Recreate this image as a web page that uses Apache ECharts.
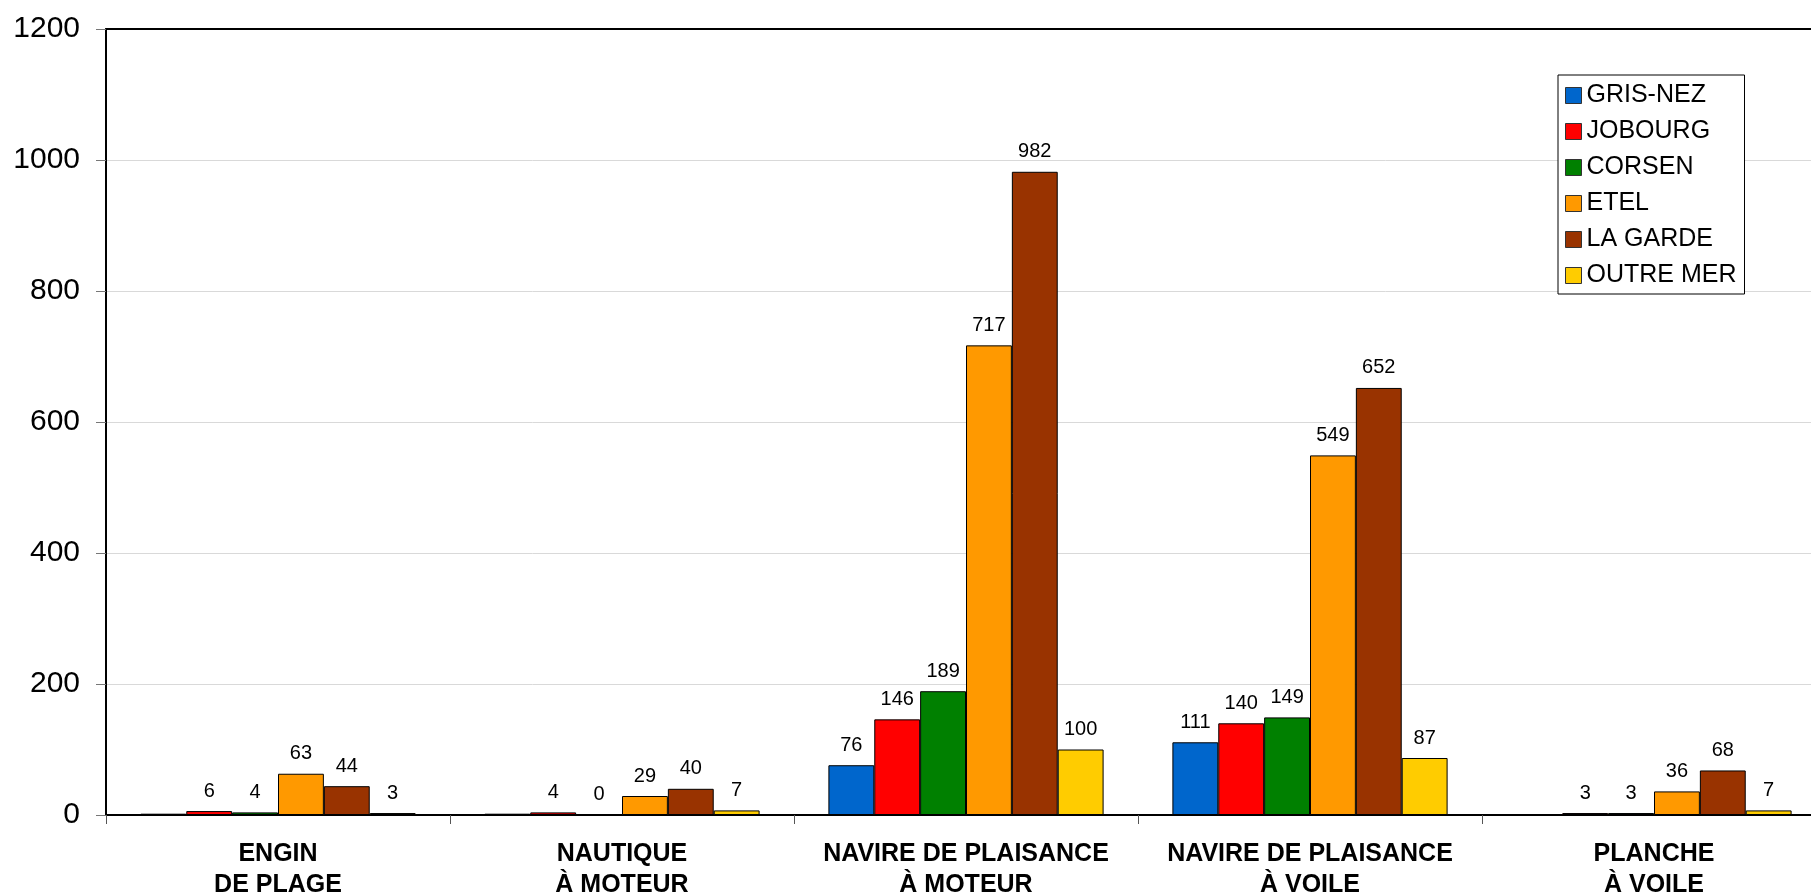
<!DOCTYPE html>
<html>
<head>
<meta charset="utf-8">
<script src="https://cdn.jsdelivr.net/npm/echarts@6/dist/echarts.min.js"></script>
<style>
html,body{margin:0;padding:0;background:#fff;}
#chart{width:1811px;height:895px;}
</style>
</head>
<body>
<div id="chart"></div>
<script>
var categories = ['ENGIN\nDE PLAGE', 'NAUTIQUE\nÀ MOTEUR', 'NAVIRE DE PLAISANCE\nÀ MOTEUR', 'NAVIRE DE PLAISANCE\nÀ VOILE', 'PLANCHE\nÀ VOILE'];
var seriesNames = ['GRIS-NEZ', 'JOBOURG', 'CORSEN', 'ETEL', 'LA GARDE', 'OUTRE MER'];
var seriesColors = ['#0066CC', '#FF0000', '#008000', '#FF9900', '#993300', '#FFCC00'];
var grisNez = [2, 2, 76, 111, null];
var jobourg = [6, 4, 146, 140, 3];
var corsen = [4, 0, 189, 149, 3];
var etel = [63, 29, 717, 549, 36];
var laGarde = [44, 40, 982, 652, 68];
var outreMer = [3, 7, 100, 87, 7];
var grisNezLabelShown = [false, false, true, true, false];
var yTicks = [0, 200, 400, 600, 800, 1000, 1200];

var allValues = [grisNez, jobourg, corsen, etel, laGarde, outreMer];
var FONT = '"Liberation Sans", Arial, sans-serif';

var series = allValues.map(function (vals, si) {
  return {
    name: seriesNames[si],
    type: 'bar',
    barGap: '0%',
    barCategoryGap: '20%',
    itemStyle: { color: seriesColors[si], borderColor: '#000', borderWidth: 1 },
    label: {
      show: true, position: 'top', distance: 10,
      color: '#000', fontSize: 20, fontFamily: FONT
    },
    data: vals.map(function (v, ci) {
      if (si === 0 && !grisNezLabelShown[ci]) {
        return { value: v, label: { show: false } };
      }
      return v;
    })
  };
});

var chart = echarts.init(document.getElementById('chart'), null, { renderer: 'canvas' });
chart.setOption({
  animation: false,
  backgroundColor: '#fff',
  grid: { left: 106, top: 29, width: 1720, height: 786, containLabel: false, outerBoundsMode: 'none' },
  legend: {
    orient: 'vertical',
    left: 1558, top: 75,
    data: seriesNames,
    backgroundColor: '#fff',
    borderColor: '#000', borderWidth: 1,
    padding: [8, 8, 6, 7],
    itemGap: 11,
    itemWidth: 16, itemHeight: 16,
    icon: 'rect',
    textStyle: { fontSize: 25, fontFamily: FONT, color: '#000', lineHeight: 25 },
    itemStyle: { borderColor: '#333', borderWidth: 1 }
  },
  xAxis: [{
    type: 'category',
    data: categories,
    position: 'bottom',
    axisLine: { show: true, lineStyle: { color: '#000', width: 2 } },
    axisTick: { show: true, length: 9, lineStyle: { color: '#555', width: 1 } },
    axisLabel: {
      color: '#000', fontSize: 25, fontWeight: 'bold', fontFamily: FONT,
      lineHeight: 31, margin: 24, interval: 0
    },
    splitLine: { show: false }
  }, {
    type: 'category',
    data: categories,
    position: 'top',
    axisLine: { show: true, lineStyle: { color: '#000', width: 2 } },
    axisTick: { show: false },
    axisLabel: { show: false }
  }],
  yAxis: {
    type: 'value',
    min: 0, max: 1200, interval: 200,
    axisLine: { show: true, lineStyle: { color: '#000', width: 2 } },
    axisTick: { show: true, length: 10, lineStyle: { color: '#777', width: 1 } },
    axisLabel: {
      color: '#000', fontSize: 30, fontFamily: FONT, margin: 26,
      formatter: function (v) { return yTicks.indexOf(v) >= 0 ? String(v) : ''; }
    },
    splitLine: { show: true, lineStyle: { color: '#d9d9d9', width: 1 } }
  },
  series: series
});
</script>
</body>
</html>
